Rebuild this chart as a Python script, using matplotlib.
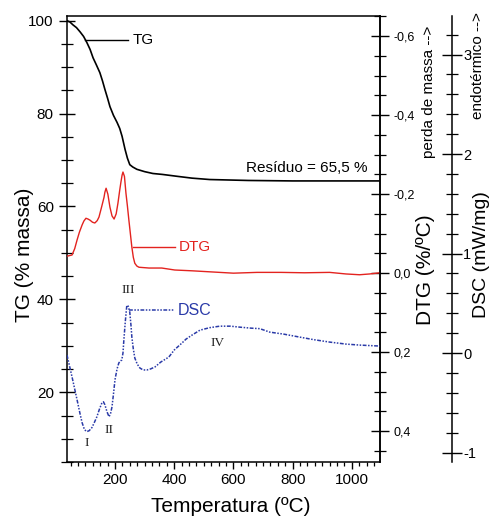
import matplotlib
matplotlib.use("Agg")
import matplotlib.pyplot as plt
from matplotlib.ticker import MultipleLocator, FixedLocator, FixedFormatter

plt.rcParams['font.family'] = ['Liberation Sans', 'DejaVu Sans']

# ---------------- data ----------------
tg_temp = [38, 48, 58, 70, 82, 94, 105, 116, 126, 137, 149, 158, 166, 175, 183, 195, 207, 216, 224, 234,
           242, 250, 260, 274, 300, 328, 360, 409, 460, 520, 650, 800, 950, 1095]
tg_mass = [100.0, 99.7, 99.1, 98.5, 97.6, 96.6, 95.3, 93.8, 92.0, 90.5, 88.8, 87.0, 85.2, 83.3, 81.5, 79.6,
           78.1, 76.8, 75.1, 72.3, 70.4, 69.0, 68.5, 68.0, 67.5, 67.1, 66.9, 66.5, 66.1, 65.8, 65.6, 65.5,
           65.5, 65.5]

dtg_temp = [38, 55, 64, 72, 80, 89, 95, 102, 109, 116, 124, 132, 140, 146, 155, 163, 166, 170, 176, 183,
            190, 197, 204, 210, 216, 220, 224, 227, 232, 237, 242, 247, 252, 257, 262, 267, 274, 281, 315,
            358, 402, 460, 530, 600, 680, 760, 840, 925, 980, 1026, 1060, 1095]
dtg_val = [-0.043, -0.046, -0.062, -0.084, -0.104, -0.122, -0.132, -0.139, -0.137, -0.134, -0.129, -0.127,
           -0.133, -0.142, -0.168, -0.192, -0.205, -0.215, -0.200, -0.167, -0.145, -0.137, -0.150, -0.177,
           -0.210, -0.230, -0.248, -0.256, -0.245, -0.203, -0.170, -0.134, -0.100, -0.066, -0.040, -0.025,
           -0.018, -0.015, -0.013, -0.013, -0.008, -0.006, -0.003, 0.0, -0.002, -0.002, -0.001, -0.002, 0.002,
           0.004, 0.002, -0.001]

dsc_temp = [38, 55, 72, 82, 89, 97, 105, 113, 122, 130, 139, 148, 156, 161, 166, 173, 180, 185, 190, 195,
            200, 207, 213, 218, 223, 227, 230, 235, 240, 245, 250, 254, 257, 262, 267, 275, 284, 295, 308,
            320, 335, 355, 382, 400, 426, 440, 460, 487, 520, 554, 590, 622, 660, 689, 723, 770, 824, 870,
            925, 980, 1026, 1095]
dsc_val = [-0.02, -0.24, -0.47, -0.61, -0.70, -0.77, -0.79, -0.78, -0.75, -0.70, -0.64, -0.56, -0.50, -0.49,
           -0.52, -0.59, -0.64, -0.61, -0.54, -0.41, -0.27, -0.16, -0.10, -0.08, -0.07, 0.00, 0.13, 0.32,
           0.48, 0.47, 0.41, 0.28, 0.16, 0.04, -0.05, -0.11, -0.15, -0.17, -0.17, -0.16, -0.14, -0.09,
           -0.04, 0.03, 0.10, 0.14, 0.18, 0.23, 0.255, 0.27, 0.27, 0.26, 0.25, 0.245, 0.21, 0.19, 0.16,
           0.135, 0.11, 0.09, 0.08, 0.07]

x_ticks = [200, 400, 600, 800, 1000]
tg_ticks = [20, 40, 60, 80, 100]
dtg_ticks = [-0.6, -0.4, -0.2, 0.0, 0.2, 0.4]
dtg_labels = ['-0,6', '-0,4', '-0,2', '0,0', '0,2', '0,4']
dsc_ticks = [-1, 0, 1, 2, 3]
dsc_labels = ['-1', '0', '1', '2', '3']
residuo_text = 'Resíduo = 65,5 %'

# ---------------- figure ----------------
W, H = 490, 518
fig = plt.figure(figsize=(W / 100, H / 100), dpi=100)
L, R, T, B = 67, 380, 16, 462
ax = fig.add_axes([L / W, 1 - B / H, (R - L) / W, (B - T) / H])

red = '#e3231f'
blue = '#2a3aa8'
lw_sp = 1.1
dsc_dash = (2.5, 1, 1, 1, 1, 1)

ax.plot(tg_temp, tg_mass, color='black', lw=1.2, solid_joinstyle='round')
ax.set_xlim(38, 1095)
ax.set_ylim(5, 101)

ax2 = ax.twinx()
ax2.plot(dtg_temp, dtg_val, color=red, lw=1.0, solid_joinstyle='round')
ax2.set_ylim(0.478, -0.651)

ax3 = ax.twinx()
ax3.plot(dsc_temp, dsc_val, color=blue, lw=1.1, dashes=dsc_dash)
ax3.set_ylim(-1.095, 3.387)
ax3.spines['right'].set_position(('axes', (452 - L) / (R - L)))

for a in (ax, ax2, ax3):
    for s in a.spines.values():
        s.set_linewidth(lw_sp)
for a in (ax2, ax3):
    for side in ('left', 'top', 'bottom'):
        a.spines[side].set_visible(False)

# x axis
ax.xaxis.set_major_locator(FixedLocator(x_ticks))
ax.xaxis.set_minor_locator(MultipleLocator(25))
ax.tick_params(axis='x', which='major', direction='out', length=5, width=1.0, labelsize=11, pad=3)
ax.tick_params(axis='x', which='minor', direction='out', length=3, width=0.9)
ax.tick_params(axis='x', top=False, which='both')

# TG axis
ax.yaxis.set_major_locator(FixedLocator(tg_ticks))
ax.yaxis.set_minor_locator(MultipleLocator(5))
ax.tick_params(axis='y', which='major', direction='inout', length=11, width=1.0, labelsize=11, pad=4)
ax.tick_params(axis='y', which='minor', direction='inout', length=8, width=0.9)

# DTG axis
ax2.yaxis.set_major_locator(FixedLocator(dtg_ticks))
ax2.yaxis.set_major_formatter(FixedFormatter(dtg_labels))
ax2.yaxis.set_minor_locator(MultipleLocator(0.05))
ax2.tick_params(axis='y', which='major', direction='inout', length=13, width=1.0, labelsize=9, pad=3)
ax2.tick_params(axis='y', which='minor', direction='inout', length=8, width=0.9)

# DSC axis
ax3.yaxis.set_major_locator(FixedLocator(dsc_ticks))
ax3.yaxis.set_major_formatter(FixedFormatter(dsc_labels))
ax3.yaxis.set_minor_locator(MultipleLocator(0.2))
ax3.tick_params(axis='y', which='major', direction='inout', length=14, width=1.0, labelsize=10.5, pad=1)
ax3.tick_params(axis='y', which='minor', direction='inout', length=8, width=0.9)

# axis labels
fig.text(231 / W, 1 - 506 / H, 'Temperatura (ºC)', fontsize=15, ha='center', va='center')
fig.text(24 / W, 1 - 255 / H, 'TG (% massa)', fontsize=15, ha='center', va='center', rotation=90)
fig.text(425 / W, 1 - 270 / H, 'DTG (%/ºC)', fontsize=15, ha='center', va='center', rotation=90)
fig.text(481 / W, 1 - 255 / H, 'DSC (mW/mg)', fontsize=14, ha='center', va='center', rotation=90)
fig.text(429 / W, 1 - 92 / H, 'perda de massa -->', fontsize=11, ha='center', va='center', rotation=90)
fig.text(478 / W, 1 - 66 / H, 'endotérmico -->', fontsize=11, ha='center', va='center', rotation=90)

# curve annotations
ax.plot([99, 244], [95.9, 95.9], color='black', lw=1.0)
ax.text(259, 95.9, 'TG', fontsize=11, ha='left', va='center')
ax.text(1053, 68.3, residuo_text, fontsize=11, ha='right', va='center')

ax2.plot([261, 402], [-0.066, -0.066], color=red, lw=1.0)
ax2.text(414, -0.066, 'DTG', fontsize=11, color=red, ha='left', va='center')

ax3.plot([247, 399], [0.43, 0.43], color=blue, lw=1.1, dashes=dsc_dash)
ax3.text(411, 0.43, 'DSC', fontsize=11.5, color=blue, ha='left', va='center')

serif = ['Liberation Serif', 'DejaVu Serif']
for lab, tx, ty in [('I', 105, -0.90), ('II', 180, -0.77), ('III', 244, 0.63), ('IV', 547, 0.10)]:
    ax3.text(tx, ty, lab, fontsize=9.5, family=serif, ha='center', va='center', color='#222222')

fig.savefig('out.png', dpi=100)
